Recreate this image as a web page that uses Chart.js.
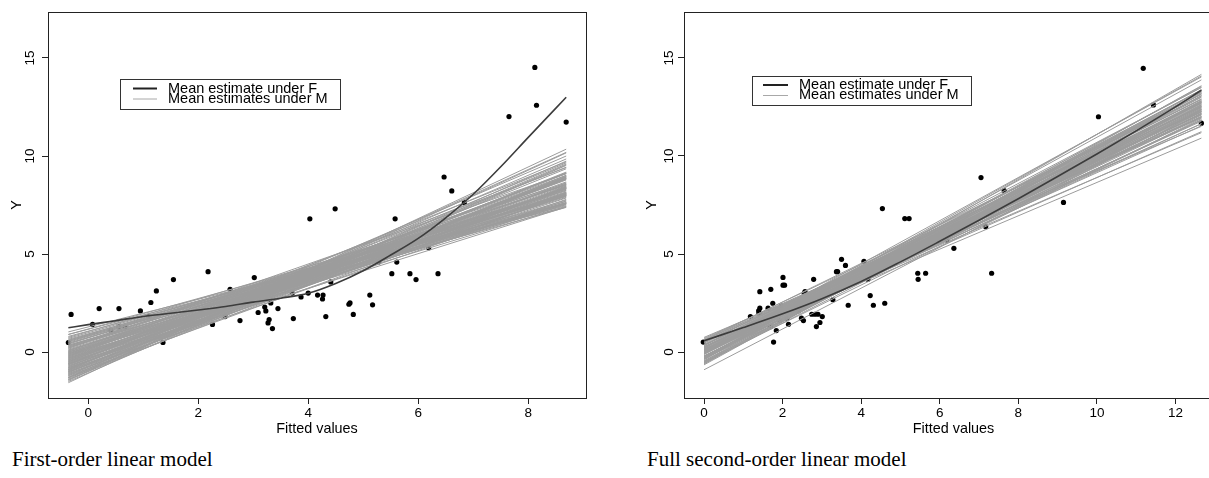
<!DOCTYPE html>
<html>
<head>
<meta charset="utf-8">
<script src="https://cdn.jsdelivr.net/npm/chart.js@4.4.0/dist/chart.umd.min.js"></script>
<style>
  html, body { margin: 0; padding: 0; background: #fff; overflow: hidden; width: 1209px; height: 478px; }
  .panel { position: absolute; top: 0; }
  #leftPanel { left: 0; width: 600px; height: 440px; }
  #rightPanel { left: 600px; width: 640px; height: 440px; }
  .caption { position: absolute; top: 449px; font-family: 'Liberation Serif', 'Times New Roman', serif; font-size: 21px; line-height: 21px; color: #000; white-space: nowrap; }
</style>
</head>
<body>
<div class="panel" id="leftPanel"><canvas id="leftChart" width="600" height="440"></canvas></div>
<div class="panel" id="rightPanel"><canvas id="rightChart" width="640" height="440"></canvas></div>
<div class="caption" style="left:12px">First-order linear model</div>
<div class="caption" style="left:647px">Full second-order linear model</div>
<script>
// Textos
const LABEL_F = 'Mean estimate under F';
const LABEL_M = 'Mean estimates under M';
const X_TITLE = 'Fitted values';
const Y_TITLE = 'Y';
const FONT = "'Liberation Sans', Arial, sans-serif";

// Ticks
const Y_TICKS = [0, 5, 10, 15];
const X_TICKS_LEFT = [0, 2, 4, 6, 8];
const X_TICKS_RIGHT = [0, 2, 4, 6, 8, 10, 12];

// ---- Modelo de primer orden ----
const leftPointsX = [-0.36, -0.31, 0.08, 0.20, 0.41, 0.56, 0.56, 0.67, 0.95, 1.10, 1.14, 1.24, 1.36, 1.55,
  2.18, 2.26, 2.49, 2.58, 2.76, 3.02, 3.09, 3.21, 3.23, 3.27, 3.29, 3.32, 3.35, 3.45, 3.71, 3.73, 3.87,
  4.00, 4.03, 4.17, 4.26, 4.27, 4.32, 4.41, 4.49, 4.74, 4.76, 4.82, 5.12, 5.17, 5.28, 5.52, 5.58, 5.61,
  5.85, 5.96, 6.19, 6.36, 6.47, 6.61, 6.84, 7.65, 8.12, 8.15, 8.69];
const leftPointsY = [0.49, 1.92, 1.41, 2.22, 1.12, 2.22, 1.29, 1.29, 2.10, 1.83, 2.53, 3.12, 0.49, 3.70,
  4.10, 1.41, 1.81, 3.20, 1.61, 3.80, 2.02, 2.30, 2.10, 1.49, 1.66, 2.51, 1.20, 2.22, 3.01, 1.71, 2.81,
  3.01, 6.80, 2.91, 2.71, 2.91, 1.81, 3.58, 7.31, 2.44, 2.51, 1.92, 2.91, 2.41, 4.60, 4.00, 6.80, 4.59,
  4.00, 3.70, 5.32, 4.00, 8.93, 8.22, 7.63, 12.01, 14.52, 12.59, 11.73];

const leftCurveX = [-0.36, 0, 0.5, 1, 1.5, 2, 2.5, 3, 3.5, 4, 4.5, 5, 5.5, 6, 6.5, 7, 7.5, 8, 8.69];
const leftCurveY = [1.24, 1.40, 1.60, 1.82, 1.98, 2.15, 2.33, 2.55, 2.75, 3.00, 3.50, 4.15, 4.95, 5.80, 6.85, 8.05, 9.45, 10.95, 13.0];

const leftLineFrom = -0.36;
const leftLineTo = 8.69;
const leftLinesStart = [1.03, 0.90, 0.80, 0.75, 0.60, 0.55, 0.45, 0.40, 0.30, 0.25, 0.20, 0.10, 0.05, 0.00, -0.05,
  -0.10, -0.15, -0.20, -0.25, -0.30, -0.35, -0.40, -0.45, -0.50, -0.55, -0.60, -0.65, -0.70, -0.75, -0.80,
  -0.85, -0.90, -0.95, -1.00, -1.05, -1.10, -1.15, -1.20, -1.25, -1.30, -1.35, -1.40, -1.45, -1.50, -1.56,
  -1.30, -0.90, -0.50, -0.20, 0.20, -1.00, -0.60, -1.20, -0.30, -0.10, 0.35, -0.40, -0.80, 0.00, -0.60,
  0.70, 0.65, 0.50, 0.35, 0.15, 0.05, -0.05, -0.15, -0.25, -0.35, -0.45, -0.55, -0.65, -0.75, -0.85,
  -0.95, -1.05, -1.15, 0.60, 0.25, 0.00, -0.30, -0.50, -0.70, -0.90, -1.00, 0.45, 0.10, -0.20, -0.40,
  -0.60, -0.80, -1.10, 0.30, -0.10, -0.90, -1.30, 0.90, -1.40, 0.55];
const leftLinesEnd = [7.41, 7.93, 7.60, 8.25, 7.63, 8.17, 7.60, 8.61, 7.57, 8.34, 8.05, 7.60, 8.84, 8.09, 7.57,
  8.57, 8.06, 7.54, 9.01, 8.38, 7.86, 8.86, 8.34, 7.71, 8.83, 8.31, 9.43, 7.97, 8.86, 8.34,
  9.35, 8.01, 8.90, 8.38, 9.85, 8.98, 8.46, 9.59, 8.95, 8.43, 9.55, 8.92, 10.16, 9.52, 10.35,
  10.19, 10.00, 9.70, 9.41, 9.11, 7.79, 7.40, 8.06, 7.44, 7.52, 7.38, 8.04, 8.81, 7.62, 8.78,
  7.97, 7.68, 8.12, 7.97, 7.89, 8.37, 8.04, 8.53, 7.96, 8.68, 7.99, 8.48, 8.14, 9.10, 8.64,
  8.43, 9.15, 8.93, 8.22, 7.75, 8.56, 8.14, 9.11, 8.56, 9.18, 8.85, 8.07, 8.07, 8.36, 8.39,
  9.13, 7.99, 8.28, 8.51, 8.93, 9.65, 9.02, 7.47, 9.74, 7.58];

// ---- Modelo de segundo orden ----
const rightPointsX = [-0.02, 1.18, 1.42, 1.40, 1.42, 1.39, 1.63, 1.70, 1.70, 1.75, 1.77, 1.84, 1.93, 1.97,
  2.01, 2.01, 2.05, 2.11, 2.15, 2.41, 2.48, 2.53, 2.55, 2.57, 2.74, 2.79, 2.82, 2.86, 2.90, 2.95, 3.01,
  3.28, 3.37, 3.40, 3.50, 3.60, 3.67, 4.07, 4.17, 4.23, 4.31, 4.54, 4.60, 5.11, 5.22, 5.44, 5.45, 5.64,
  6.18, 6.36, 7.05, 7.17, 7.32, 7.64, 9.15, 10.04, 11.18, 11.44, 12.66];
const rightPointsY = [0.51, 1.81, 3.08, 1.98, 2.24, 2.10, 2.24, 3.20, 1.30, 2.49, 0.51, 1.10, 1.61, 2.35,
  3.81, 3.41, 3.41, 1.73, 1.42, 2.11, 1.73, 1.61, 3.00, 3.08, 1.93, 3.71, 1.93, 1.30, 1.93, 1.51, 1.81,
  2.67, 4.10, 4.10, 4.73, 4.42, 2.39, 4.63, 3.71, 2.88, 2.39, 7.32, 2.49, 6.81, 6.81, 4.02, 3.71, 4.02,
  5.71, 5.29, 8.90, 6.39, 4.02, 8.24, 7.63, 12.00, 14.47, 12.60, 11.67];

const rightCurveX = [0, 1, 2, 3, 4, 5, 6, 7, 8, 9, 10, 11, 12, 12.66];
const rightCurveY = [0.58, 1.25, 1.95, 2.72, 3.60, 4.60, 5.65, 6.72, 7.82, 8.95, 10.10, 11.28, 12.50, 13.35];

const rightLineFrom = 0;
const rightLineTo = 12.66;
const rightLinesStart = [0.05, 0.05, 0.00, 0.60, -0.50, -0.60, 0.75, 0.60, -0.55, -0.05, 0.10, 0.10, 0.10, -0.40,
  -0.60, 0.55, -0.20, 0.15, -0.35, 0.25, 0.35, -0.55, 0.65, 0.25, -0.30, 0.15, 0.10, -0.90, 0.25, -0.20,
  0.00, -0.20, 0.10, 0.05, 0.45, 0.30, -0.10, -0.65, 0.70, -0.25,
  0.05, -0.10, 0.40, 0.00, 0.25, -0.30, 0.20, -0.05, -0.25, 0.35, 0.50, -0.35, 0.10, -0.10, 0.10,
  -0.05, -0.35, 0.60, -0.50, -0.05, 0.25, 0.25, -0.10, 0.35, -0.05, -0.05, -0.05, 0.25, -0.20, -0.45,
  0.50, -0.10, 0.35, -0.50, 0.05, 0.20, -0.25, 0.15, 0.20, -0.30, 0.35, 0.10, 0.25, -0.05, -0.45];
const rightLinesEnd = [12.46, 13.34, 11.65, 13.01, 11.91, 13.58, 11.51, 12.25, 12.74, 13.88, 11.24, 12.76, 12.13, 14.16,
  13.07, 11.94, 12.08, 13.06, 13.07, 11.64, 12.50, 12.36, 12.68, 12.02, 13.37, 10.91, 14.03, 12.27, 12.28, 12.46,
  13.17, 12.71, 12.63, 11.82, 12.73, 11.19, 14.08, 13.28, 11.97, 12.41,
  12.33, 12.81, 12.30, 12.15, 12.78, 12.36, 13.24, 11.85, 13.17, 12.00, 12.53, 12.82, 12.89, 12.18, 12.51,
  13.50, 12.18, 11.99, 13.17, 13.24, 11.77, 12.40, 12.69, 13.14, 11.98, 12.99, 12.36, 12.91, 11.83, 13.35,
  12.27, 12.56, 12.88, 12.79, 12.71, 12.23, 13.55, 11.54, 13.49, 12.61, 12.12, 12.13, 12.53, 13.37, 12.59];

// Marco alrededor del área de dibujo
const frameBox = {
    id: 'frameBox',
    afterDraw(chart) {
        const a = chart.chartArea;
        const ctx = chart.ctx;
        ctx.save();
        ctx.strokeStyle = '#222';
        ctx.lineWidth = 1;
        ctx.strokeRect(Math.round(a.left) + 0.5, Math.round(a.top) + 0.5,
            Math.round(a.right - a.left), Math.round(a.bottom - a.top));
        ctx.restore();
    }
};

// Leyenda dibujada a mano (dos filas casi superpuestas, como en R)
const boxLegend = {
    id: 'boxLegend',
    afterDraw(chart, args, opts) {
        const ctx = chart.ctx;
        ctx.save();
        ctx.fillStyle = '#fff';
        ctx.fillRect(opts.x, opts.y, opts.w, opts.h);
        ctx.strokeStyle = '#333';
        ctx.lineWidth = 1;
        ctx.strokeRect(opts.x + 0.5, opts.y + 0.5, opts.w, opts.h);

        // fila 1: F
        ctx.strokeStyle = '#222';
        ctx.lineWidth = 2;
        ctx.beginPath();
        ctx.moveTo(opts.lineX0, opts.row1);
        ctx.lineTo(opts.lineX1, opts.row1);
        ctx.stroke();
        // fila 2: M
        ctx.strokeStyle = '#a8a8a8';
        ctx.lineWidth = 1;
        ctx.beginPath();
        ctx.moveTo(opts.lineX0, opts.row2 + 0.5);
        ctx.lineTo(opts.lineX1, opts.row2 + 0.5);
        ctx.stroke();

        ctx.fillStyle = '#000';
        ctx.font = '14.5px ' + FONT;
        ctx.textBaseline = 'middle';
        ctx.textAlign = 'left';
        ctx.fillText(LABEL_F, opts.textX, opts.row1);
        ctx.fillText(LABEL_M, opts.textX, opts.row2);
        ctx.restore();
    }
};

function buildDatasets(px, py, cx, cy, x0, x1, ya, yb) {
    const sets = [];
    sets.push({
        label: LABEL_F,
        data: cx.map((x, i) => ({ x: x, y: cy[i] })),
        showLine: true,
        borderColor: '#3c3c3c',
        borderWidth: 1.6,
        pointRadius: 0,
        cubicInterpolationMode: 'monotone',
        order: 0
    });
    ya.forEach((a, i) => {
        sets.push({
            label: LABEL_M,
            data: [{ x: x0, y: a }, { x: x1, y: yb[i] }],
            showLine: true,
            borderColor: '#9c9c9c',
            borderWidth: 1,
            pointRadius: 0,
            order: 10
        });
    });
    sets.push({
        label: Y_TITLE,
        data: px.map((x, i) => ({ x: x, y: py[i] })),
        showLine: false,
        pointRadius: 2.6,
        pointBackgroundColor: '#000',
        pointBorderWidth: 0,
        order: 100
    });
    return sets;
}

function buildOptions(cfg) {
    return {
        responsive: false,
        animation: false,
        events: [],
        layout: { padding: { left: cfg.padLeft, top: cfg.padTop, right: cfg.padRight, bottom: 0 } },
        plugins: {
            legend: { display: false },
            tooltip: { enabled: false },
            boxLegend: cfg.legend
        },
        scales: {
            x: {
                type: 'linear',
                min: cfg.xMin,
                max: cfg.xMax,
                afterBuildTicks: s => { s.ticks = cfg.xTicks.map(v => ({ value: v })); },
                afterFit: s => { s.height = 42; },
                grid: { drawOnChartArea: false, drawTicks: true, tickLength: 6, color: '#222', lineWidth: 1 },
                border: { display: false },
                ticks: { padding: 1, color: '#000', font: { family: FONT, size: 13.5 }, maxRotation: 0, autoSkip: false },
                title: { display: true, text: X_TITLE, color: '#000', font: { family: FONT, size: 14.4 }, padding: { top: 0, bottom: 2 } }
            },
            y: {
                type: 'linear',
                min: -2.34,
                max: 17.34,
                afterBuildTicks: s => { s.ticks = Y_TICKS.map(v => ({ value: v })); },
                afterFit: s => { s.width = cfg.yWidth; },
                grid: { drawOnChartArea: false, drawTicks: true, tickLength: 6, color: '#222', lineWidth: 1 },
                border: { display: false },
                ticks: { padding: cfg.yTickPad, color: '#000', font: { family: FONT, size: 13.5 }, minRotation: 90, maxRotation: 90, crossAlign: 'center', autoSkip: false },
                title: { display: true, text: Y_TITLE, color: '#000', font: { family: FONT, size: 14.4 }, padding: { top: 8, bottom: 0 } }
            }
        }
    };
}

new Chart(document.getElementById('leftChart'), {
    type: 'scatter',
    data: { datasets: buildDatasets(leftPointsX, leftPointsY, leftCurveX, leftCurveY, leftLineFrom, leftLineTo, leftLinesStart, leftLinesEnd) },
    options: buildOptions({
        padLeft: 0, padTop: 11, padRight: 14, yWidth: 48, yTickPad: 4,
        xMin: -0.73, xMax: 9.05, xTicks: X_TICKS_LEFT,
        legend: { x: 120, y: 79, w: 220, h: 30, lineX0: 133, lineX1: 157, textX: 168, row1: 88.5, row2: 98.5 }
    }),
    plugins: [frameBox, boxLegend]
});

new Chart(document.getElementById('rightChart'), {
    type: 'scatter',
    data: { datasets: buildDatasets(rightPointsX, rightPointsY, rightCurveX, rightCurveY, rightLineFrom, rightLineTo, rightLinesStart, rightLinesEnd) },
    options: buildOptions({
        padLeft: 35, padTop: 12, padRight: 17, yWidth: 49, yTickPad: 1,
        xMin: -0.51, xMax: 13.21, xTicks: X_TICKS_RIGHT,
        legend: { x: 152, y: 76, w: 219, h: 29, lineX0: 163, lineX1: 188, textX: 199, row1: 85, row2: 95 }
    }),
    plugins: [frameBox, boxLegend]
});
</script>
</body>
</html>
